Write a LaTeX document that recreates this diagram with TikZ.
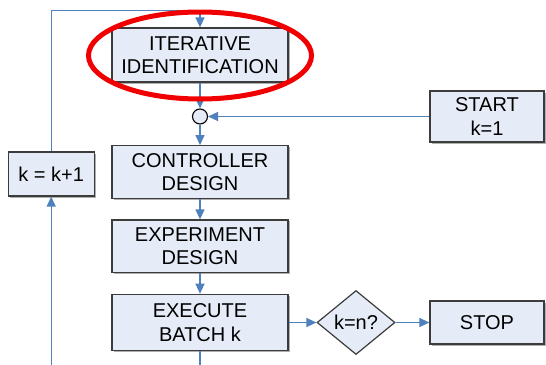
\documentclass[tikz,border=0pt]{standalone}
\usepackage{fontspec}
\setmainfont{Liberation Sans}
\usetikzlibrary{arrows.meta,shapes.geometric,shadows}
\definecolor{boxfill}{RGB}{230,236,247}
\definecolor{boxline}{RGB}{60,60,60}
\definecolor{arrblue}{RGB}{79,129,189}
\definecolor{ringred}{RGB}{240,0,0}
\tikzset{
  fbox/.style={draw=boxline, fill=boxfill, line width=1.2pt, inner sep=0pt, align=center,
    font=\fontsize{20}{23.5}\selectfont,
    drop shadow={shadow xshift=1.5pt, shadow yshift=-1.5pt, fill=black!45, opacity=0.7}},
  dbox/.style={diamond, draw=boxline, fill=boxfill, line width=1.2pt, inner sep=0pt,
    font=\fontsize{20}{23.5}\selectfont},
  junc/.style={circle, draw=black, fill=boxfill, line width=1.1pt, minimum size=15pt, inner sep=0pt},
  arr/.style={draw=arrblue, line width=1.3pt, -{Triangle[width=9pt,length=10pt]}},
  ln/.style={draw=arrblue, line width=1.3pt}
}
\begin{document}
\begin{tikzpicture}[x=1pt,y=-1pt]
\clip (0,0) rectangle (546,364);
\fill[white] (0,0) rectangle (546,364);
\node[fbox, minimum width=176pt, minimum height=54pt] (iter) at (200,55) {ITERATIVE\\IDENTIFICATION};
\node[junc] (circ) at (200,116.5) {};
\node[fbox, minimum width=176pt, minimum height=52.6pt] (ctrl) at (200,172) {CONTROLLER\\DESIGN};
\node[fbox, minimum width=176pt, minimum height=52.7pt] (exp) at (200,246.3) {EXPERIMENT\\DESIGN};
\node[fbox, minimum width=176pt, minimum height=56.4pt] (exec) at (200,322.5) {EXECUTE\\BATCH k};
\node[fbox, minimum width=86pt, minimum height=44pt] (kk) at (51.2,174) {k = k+1};
\node[fbox, minimum width=114pt, minimum height=51pt] (start) at (487,116.5) {START\\k=1};
\node[dbox, minimum width=78pt, minimum height=64pt] (dia) at (356,322.5) {k=n?};
\node[fbox, minimum width=114pt, minimum height=43pt] (stop) at (487,322.5) {STOP};
\coordinate (tl) at (51.2,10.7);
\coordinate (bc) at (200,372);
\coordinate (bl) at (51.2,372);
\draw[arr] (kk.north) -- (tl) -| (iter.north);
\draw[arr] (iter.south) -- (circ.north);
\draw[arr] (start.west) -- (circ.east);
\draw[arr] (circ.south) -- (ctrl.north);
\draw[arr] (ctrl.south) -- (exp.north);
\draw[arr] (exp.south) -- (exec.north);
\draw[arr] (exec.east) -- (dia.west);
\draw[arr] (dia.east) -- (stop.west);
\draw[ln] (exec.south) -- (bc) -- (bl);
\draw[arr] (bl) -- (kk.south);
\draw[ringred, line width=5pt] (200,55.5) ellipse [x radius=111.5, y radius=43.5];
\end{tikzpicture}
\end{document}
